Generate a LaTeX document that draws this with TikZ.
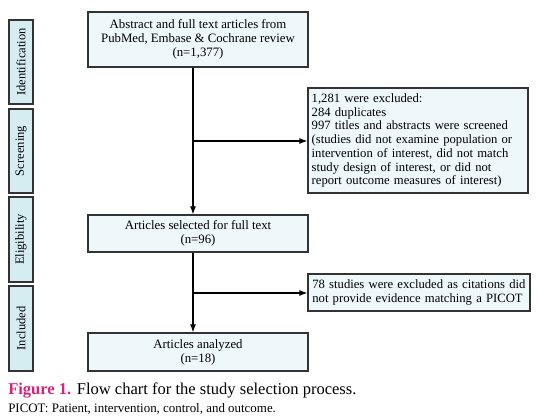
\documentclass[tikz,border=0pt]{standalone}
\usepackage{fontspec}
\setmainfont{Liberation Serif}
\usetikzlibrary{arrows.meta}
\definecolor{boxfill}{HTML}{EEF7FA}
\definecolor{stagefill}{HTML}{D5ECF1}
\definecolor{edge}{HTML}{333333}
\definecolor{figmag}{HTML}{D2237E}
\begin{document}
\begin{tikzpicture}[x=0.75pt,y=-0.75pt,
  mainbox/.style={draw=edge,line width=1pt,fill=boxfill,minimum width=165pt,inner sep=0pt,align=center,font=\fontsize{9.6}{10.4}\selectfont},
  sidebox/.style={draw=edge,line width=1pt,fill=boxfill,inner sep=0pt,align=left,font=\fontsize{9.5}{10.3}\selectfont},
  stagebox/.style={draw=edge,line width=1pt,fill=stagefill,minimum width=18pt,inner sep=0pt},
  stagetext/.style={rotate=90,font=\fontsize{9.4}{10}\selectfont},
  flow/.style={line width=0.8pt,-{Latex[length=6pt,width=4.5pt]}}]
\useasboundingbox (0,0) rectangle (538,419);
% stage boxes
\node[stagebox,minimum height=63pt] (s1) at (21,62) {};
\node[stagetext] (t1) at (s1.center) {Identification};
\node[stagebox,minimum height=63pt] (s2) at (21,151) {};
\node[stagetext] (t2) at (s2.center) {Screening};
\node[stagebox,minimum height=63.75pt] (s3) at (21,239.5) {};
\node[stagetext] (t3) at (s3.center) {Eligibility};
\node[stagebox,minimum height=63.75pt] (s4) at (21,328.5) {};
\node[stagetext] (t4) at (s4.center) {Included};
% main boxes
\node[mainbox,minimum height=41.25pt] (b1) at (198,39.5) {Abstract and full text articles from\\PubMed, Embase \& Cochrane review\\(n=1,377)};
\node[mainbox,minimum height=27.75pt] (b2) at (198,233.5) {Articles selected for full text\\(n=96)};
\node[mainbox,minimum height=28.5pt] (b3) at (198,352) {Articles analyzed\\(n=18)};
% side boxes
\node[sidebox,minimum width=165pt,minimum height=78.75pt,text width=159.5pt] (r1) at (418,140.5) {1,281 were excluded:\\284 duplicates\\997 titles and abstracts were screened\\(studies did not examine population or\\intervention of interest, did not match\\study design of interest, or did not\\report outcome measures of interest)};
\node[sidebox,minimum width=166.5pt,minimum height=27.75pt,text width=160pt,font=\fontsize{9.5}{10}\selectfont] (r2) at (419,292.5) {78 studies were excluded as citations did\\not provide evidence matching a PICOT};
% connectors
\coordinate (ax) at (193,0);
\coordinate (j1) at (193,141);
\coordinate (j2) at (193,293);
\draw[flow] (b1.south -| ax) -- (b2.north -| ax);
\draw[flow] (b2.south -| ax) -- (b3.north -| ax);
\draw[flow] (j1) -- (j1 -| r1.west);
\draw[flow] (j2) -- (j2 -| r2.west);
% caption
\node[anchor=west,inner sep=0pt,font=\fontsize{12.4}{14}\selectfont] (cap) at (8,390) {\textcolor{figmag}{\textbf{Figure 1.}} Flow chart for the study selection process.};
\node[anchor=west,inner sep=0pt,font=\fontsize{9.7}{11}\selectfont] (note) at (8,409) {PICOT: Patient, intervention, control, and outcome.};
\end{tikzpicture}
\end{document}
